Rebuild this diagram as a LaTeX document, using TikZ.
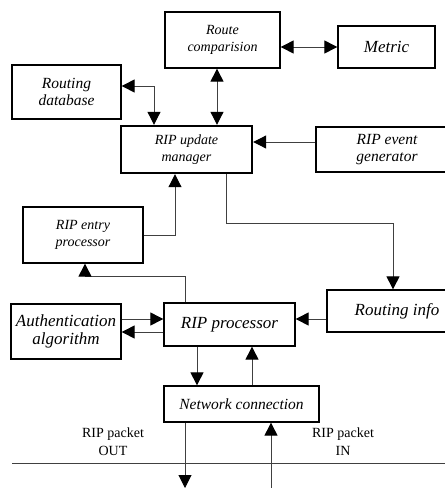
\documentclass[tikz,border=0pt]{standalone}
\usepackage{fontspec}
\setmainfont{Liberation Serif}
\usetikzlibrary{arrows.meta}

\begin{document}
\begin{tikzpicture}[
    x=1pt, y=-1pt,
    >={Triangle[length=13pt,width=13pt,color=black]},
    every node/.style={font=\fontsize{15.5}{17}\selectfont\itshape},
    box/.style={draw, line width=1.3pt, inner sep=2pt, align=center},
    sml/.style={box, font=\fontsize{14}{17.5}\selectfont\itshape},
    big/.style={box, font=\fontsize{17}{18.5}\selectfont\itshape},
    lnk/.style={->, line width=1pt, draw=black!75},
    pkt/.style={font=\fontsize{14}{18}\selectfont, align=center},
  ]
  \useasboundingbox (0,0) rectangle (445,488);
  \clip (0,0) rectangle (445,488);
  \node[sml, minimum width=115pt, minimum height=56pt] (rc)  at (222.5, 40) {Route\\comparision};
  \node[big, minimum width=97pt,  minimum height=42pt] (met) at (386.5, 47) {Metric};
  \node[box, minimum width=109pt, minimum height=54pt] (rdb) at (66.5, 92) {Routing\\database};
  \node[sml, minimum width=131pt, minimum height=47pt, line width=2.4pt] (rum) at (186.5, 149.5) {RIP update\\manager};
  \node[box, minimum width=142pt, minimum height=45pt] (reg) at (387, 149.5) {RIP event\\generator};
  \node[sml, minimum width=120pt, minimum height=56pt] (rep) at (83, 235) {RIP entry\\processor};
  \node[big, minimum width=140pt, minimum height=42pt] (ri)  at (397, 311) {Routing info};
  \node[big, minimum width=131pt, minimum height=43pt] (rp)  at (229.5, 324.5) {RIP processor};
  \node[big, minimum width=110pt, minimum height=55pt] (auth) at (66, 331.5) {Authentication\\algorithm};
  \node[box, minimum width=155pt, minimum height=36pt] (net) at (241.5, 404) {Network connection};
  \node[pkt] (pout) at (113, 442) {RIP packet\\OUT};
  \node[pkt] (pin)  at (343, 442) {RIP packet\\IN};
  \coordinate (wireL) at (12, 463);
  \coordinate (wireR) at (445, 463);
  \coordinate (outEnd) at (185, 488);
  \coordinate (inEnd)  at (271, 488);
  \draw[line width=1pt, black!75] (wireL) -- (wireR);
  \draw[lnk, <->] (met.west) -- (met.west -| rc.east);
  \draw[lnk, <->] ([yshift=6pt]rdb.east) -| ([xshift=-32.5pt]rum.north);
  \draw[lnk, <->] ([xshift=-5.5pt]rc.south) -- ([xshift=-5.5pt]rc.south |- rum.north);
  \draw[lnk] ([yshift=7.5pt]reg.west) -- ([yshift=7.5pt]reg.west -| rum.east);
  \draw[lnk] ([xshift=39.5pt]rum.south) -- ++(0,49) -| ([xshift=-4pt]ri.north);
  \draw[lnk] (rep.east) -| ([xshift=-11.5pt]rum.south);
  \draw[lnk] ([xshift=-44.5pt]rp.north) -- ++(0,-26) -| ([xshift=2pt]rep.south);
  \draw[lnk] ([yshift=-8pt]ri.west) -- ([yshift=-8pt]ri.west -| rp.east);
  \draw[lnk] ([yshift=12.5pt]auth.east) -- ([yshift=12.5pt]auth.east -| rp.west);
  \draw[lnk] ([yshift=-7.5pt]rp.west) -- ([yshift=-7.5pt]rp.west -| auth.east);
  \draw[lnk] ([xshift=-32.5pt]rp.south) -- ([xshift=-32.5pt]rp.south |- net.north);
  \draw[lnk] ([xshift=10.5pt]net.north) -- ([xshift=10.5pt]net.north |- rp.south);
  \draw[lnk] (net.south -| outEnd) -- (outEnd);
  \draw[lnk] (inEnd) -- (inEnd |- net.south);
\end{tikzpicture}
\end{document}
